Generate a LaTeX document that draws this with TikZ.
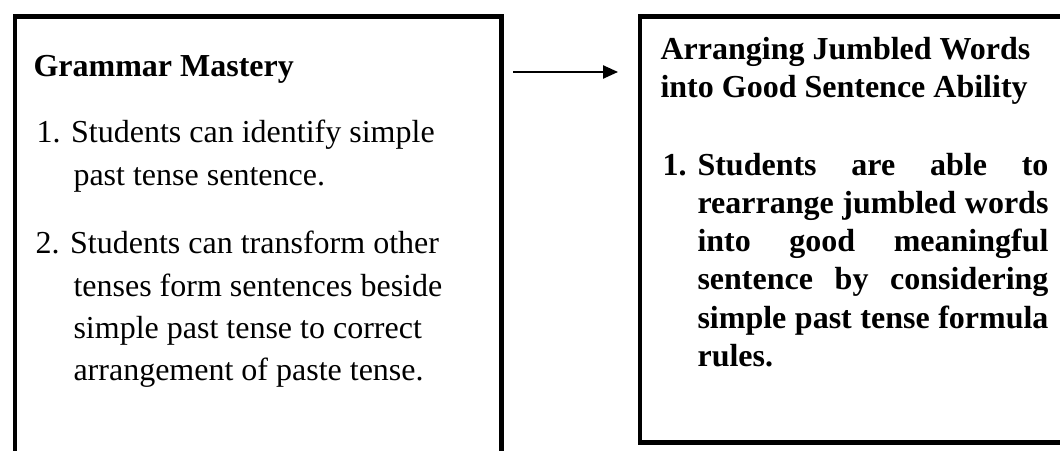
\documentclass[tikz,border=0pt]{standalone}
\usepackage{fontspec}
\setmainfont{Liberation Serif}
\usetikzlibrary{arrows.meta}
\begin{document}
\begin{tikzpicture}[x=0.375pt,y=-0.375pt,
  boxframe/.style={draw=black,line width=1.85pt,rectangle,inner sep=0pt},
  txt/.style={anchor=base west,inner sep=0pt,font=\fontsize{12}{14}\selectfont},
  btxt/.style={txt,font=\fontsize{12}{14}\selectfont\bfseries},
  conn/.style={line width=0.75pt,-{Triangle[length=5.6pt,width=4.9pt]}}]
\useasboundingbox (0,0) rectangle (1060,451);
\clip (0,0) rectangle (1060,451);
% boxes (cut off by the picture's edges)
\node[boxframe,minimum width={486.5*0.375pt},minimum height={480*0.375pt},anchor=north west] (leftbox) at (12.5,14) {};
\node[boxframe,minimum width={460*0.375pt},minimum height={426*0.375pt},anchor=north west] (rightbox) at (637.5,14) {};
% left box text
\node[btxt] (lhead) at (33,77) {Grammar Mastery};
\node[txt] (l1a) at (36,143) {1. Students can identify simple};
\node[txt] (l1b) at (73,186) {past tense sentence.};
\node[txt] (l2a) at (35,254) {2. Students can transform other};
\node[txt] (l2b) at (73,296) {tenses form sentences beside};
\node[txt] (l2c) at (73,338) {simple past tense to correct};
\node[txt] (l2d) at (73,380) {arrangement of paste tense.};
% right box text
\node[btxt] (rheadA) at (660,60) {Arranging Jumbled Words};
\node[btxt] (rheadB) at (660,98) {into Good Sentence Ability};
\node[btxt] (rnum) at (662,176) {1.};
\node[btxt] (r1) at (697,176) {\makebox[131.6pt][s]{Students are able to}};
\node[btxt] (r2) at (697,214) {\makebox[131.6pt][s]{rearrange jumbled words}};
\node[btxt] (r3) at (697,252) {\makebox[131.6pt][s]{into good meaningful}};
\node[btxt] (r4) at (697,290) {\makebox[131.6pt][s]{sentence by considering}};
\node[btxt] (r5) at (697,328) {\makebox[131.6pt][s]{simple past tense formula}};
\node[btxt] (r6) at (697,366) {rules.};
% arrow
\coordinate (as) at (513,72);
\coordinate (ae) at (618,72);
\draw[conn] (as) -- (ae);
\end{tikzpicture}
\end{document}
